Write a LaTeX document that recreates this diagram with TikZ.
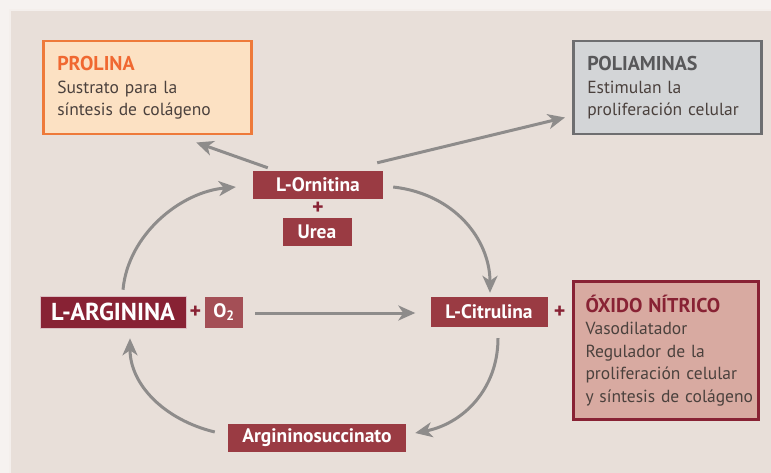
\documentclass[tikz,border=0pt]{standalone}
\usepackage{fontspec}
\setmainfont{PT Sans}
\usepackage{xcolor}
\usetikzlibrary{arrows.meta, positioning, calc}

\definecolor{panel}{HTML}{E8DFD9}
\definecolor{wine}{HTML}{9A3B43}
\definecolor{darkwine}{HTML}{882234}
\definecolor{arrowgray}{HTML}{8E8C8B}
\definecolor{bodytext}{HTML}{4B413D}
\definecolor{prolinaedge}{HTML}{EE7A3A}
\definecolor{prolinafill}{HTML}{FCE1C3}
\definecolor{poliedge}{HTML}{6E6E70}
\definecolor{polifill}{HTML}{D3D5D7}
\definecolor{oxidofill}{HTML}{D8AAA1}

\newcommand{\boxhead}[2]{{\fontsize{20}{22}\selectfont\bfseries\color{#1}#2}}

\begin{document}
\begin{tikzpicture}[
    x=1pt, y=-1pt,
    chem/.style={fill=wine, text=white, font=\fontsize{19.5}{20}\selectfont\bfseries, inner xsep=6pt, minimum height=28pt},
    infobox/.style={anchor=north west, line width=2.5pt, align=left, text=bodytext, inner xsep=14pt, font=\fontsize{17.5}{22.5}\selectfont},
    plus/.style={text=darkwine, font=\fontsize{22}{22}\selectfont\bfseries, inner sep=0pt},
    flow/.style={draw=arrowgray, line width=3pt, -{Stealth[length=17pt, width=15pt, inset=5pt]}}
]
    % Background panel
    \useasboundingbox (0,0) rectangle (771,473);
    \fill[white!60!panel] (0,0) rectangle (771,473);
    \fill[panel] (10,10) rectangle (771,473);
    \draw[white!50!panel, line width=1.5pt] (10,473) -- (10,10) -- (771,10);

    % Info boxes
    \node[infobox, draw=prolinaedge, fill=prolinafill, text width=180pt, minimum height=93pt, inner xsep=14pt] (prolina) at (42,40)
        {\boxhead{prolinaedge!85!red}{PROLINA}\\Sustrato para la\\síntesis de colágeno};
    \node[infobox, draw=poliedge, fill=polifill, text width=160pt, minimum height=93pt] (poli) at (572,40)
        {\boxhead{poliedge!80!black}{POLIAMINAS}\\Estimulan la\\proliferación celular};
    \node[infobox, draw=darkwine, line width=3pt, fill=oxidofill, text width=161pt, inner xsep=12pt, minimum height=138pt] (oxido) at (572,280)
        {\boxhead{darkwine}{ÓXIDO NÍTRICO}\\Vasodilatador\\Regulador de la\\\mbox{proliferación celular}\\\mbox{y síntesis de colágeno}};

    % Cycle members
    \node[chem, minimum width=130pt] (orn) at (318,185) {L-Ornitina};
    \node[plus] (plus1) at (318,208) {+};
    \node[chem, minimum width=69pt] (urea) at (317,232) {Urea};
    \node[chem, fill=darkwine, draw=white!70!darkwine, line width=0.6pt, minimum width=146pt, minimum height=32pt,
        font=\fontsize{24.5}{26}\selectfont\bfseries] (larg) at (113,312) {L-ARGININA};
    \node[plus, right=3pt of larg] (plus2) {+};
    \node[chem, fill=wine!90!white, minimum width=38pt, minimum height=31pt] (o2) at (224,312) {O\textsubscript{2}};
    \node[chem, minimum width=117pt, minimum height=30pt] (citr) at (489,312) {L-Citrulina};
    \node[plus, right=6pt of citr] (plus3) {+};
    \node[chem, minimum width=178pt] (argsuc) at (317,438) {Argininosuccinato};

    % Arrows
    \draw[flow] ($(orn.north west)+(15,-3)$) -- ($(prolina.south)+(49,7)$);
    \draw[flow] ($(orn.north east)+(-6,-8)$) -- ($(poli.south west)+(-7,-18)$);
    \draw[flow] ($(orn.east)+(10,2)$) .. controls (455,194) and (490,240) .. ($(citr.north)+(1,-4)$);
    \draw[flow] ($(o2.east)+(12,1)$) -- ($(citr.west)+(-15,1)$);
    \draw[flow] ($(citr.south)+(9,11)$) .. controls (498,390) and (462,424) .. ($(argsuc.east)+(9,-5)$);
    \draw[flow] ($(argsuc.west)+(-13,-6)$) .. controls (165,420) and (130,385) .. ($(larg.south)+(17,10)$);
    \draw[flow] ($(larg.north)+(10,-6)$) .. controls (128,235) and (180,192) .. ($(orn.west)+(-17,2)$);
\end{tikzpicture}
\end{document}
